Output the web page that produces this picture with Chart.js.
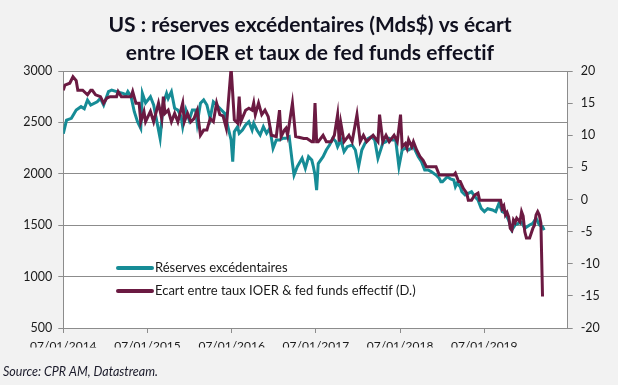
<!DOCTYPE html>
<html><head><meta charset="utf-8">
<script src="https://cdn.jsdelivr.net/npm/chart.js@4.4.1/dist/chart.umd.min.js"></script>
<style>html,body{margin:0;padding:0;background:#fff;}canvas{display:block;}</style>
</head><body>
<canvas id="c" width="620" height="390"></canvas>
<script>
// ---- Data (x = weeks since 07/01/2014) ----
const xTickLabels = ['07/01/2014','07/01/2015','07/01/2016','07/01/2017','07/01/2018','07/01/2019'];
const seriesLabels = ['Réserves excédentaires','Ecart entre taux IOER & fed funds effectif (D.)'];
const titleLines = ['US : réserves excédentaires (Mds$) vs écart','entre IOER et taux de fed funds effectif'];
const sourceText = 'Source: CPR AM, Datastream.';
const leftTicks = [500, 3000, 500];   // min, max, step
const rightTicks = [-20, 20, 5];

const reserveWeeks = [0,2,5,8,11,13,15,17,21,23,25,28,30,33,37,39,40,42,44,46,48,49,51,54,56,60,62,64,65,67,69,71,73,74,76,78,80,82,83,85,87,89,91,93,95,98,100,102,104,105,106,108,109,111,113,115,117,118,120,122,124,126,128,130,132,134,136,138,140,142,143,145,148,150,152,154,155,156,157,158,161,163,165,167,169,170,172,174,176,179,181,183,185,187,189,191,193,195,198,200,202,204,206,208,210,212,214,217,220,222,224,226,228,231,233,234,235,238,240,242,243,244,246,247,249,251,253,255,257,259,261,263,266,268,270,272,274,276,278,280,282,284,286,289,291,293,295,297,298];
const reserveValues = [2390,2523,2540,2620,2653,2633,2718,2669,2701,2734,2669,2799,2815,2799,2783,2767,2799,2750,2604,2507,2442,2783,2690,2750,2669,2345,2686,2783,2734,2799,2637,2620,2556,2458,2620,2523,2620,2620,2491,2686,2718,2669,2540,2701,2669,2620,2588,2458,2329,2118,2410,2458,2394,2426,2475,2507,2426,2491,2426,2377,2458,2394,2442,2248,2329,2329,2345,2345,2361,2102,1988,2069,2151,2053,2166,2134,2069,1988,1842,2100,2166,2231,2280,2345,2312,2264,2330,2215,2264,2280,2231,2069,2231,2297,2345,2361,2329,2151,2297,2312,2345,2329,2329,2069,2231,2248,2231,2264,2166,2118,2037,2037,2021,1988,1956,1923,1923,1972,1950,1940,1875,1907,1875,1826,1794,1810,1826,1778,1745,1664,1632,1660,1648,1632,1713,1632,1616,1550,1453,1502,1518,1530,1470,1502,1518,1567,1502,1486,1453];

const spreadWeeks = [0,1,4,6,8,9,12,15,17,18,20,23,25,27,29,33,34,36,42,43,45,47,48,50,51,54,56,59,61,62,63,65,67,69,71,74,75,77,79,81,83,85,87,89,91,93,95,97,99,101,104,106,108,109,110,113,115,117,118,119,121,123,125,127,129,132,134,135,137,138,139,142,144,149,151,154,155,156,157,158,161,163,166,168,170,171,172,174,177,179,182,184,186,188,192,195,196,198,200,202,205,207,209,210,212,213,214,216,217,219,221,223,225,231,233,242,243,245,246,248,250,251,253,255,257,258,271,272,273,274,275,276,277,278,279,280,281,283,284,285,286,287,289,291,292,293,294,295,296,297];
const spreadValues = [17.0,17.8,18.1,19.1,18.5,17.0,17.0,16.3,17.0,17.0,16.3,16.0,15.0,15.8,16.0,16.0,16.8,16.0,16.0,16.8,15.0,15.0,12.1,13.7,12.1,13.7,12.1,15.0,12.6,16.0,13.4,13.9,12.1,13.4,12.1,15.0,12.1,13.4,12.1,12.6,13.9,10.0,10.8,10.8,12.6,12.1,15.0,13.2,13.0,11.1,20.5,12.4,11.9,16.0,12.1,13.9,14.2,13.9,15.0,13.2,15.0,13.2,13.9,12.9,10.0,9.8,13.9,9.8,10.8,11.1,10.0,15.0,9.8,9.5,9.5,9.0,9.0,15.0,9.0,9.0,10.0,9.0,9.0,10.0,13.2,9.0,11.9,9.0,10.0,9.0,13.2,9.0,10.0,9.0,10.0,9.0,13.2,9.0,10.0,9.0,10.0,9.0,13.2,8.2,8.7,8.0,9.3,8.2,9.0,7.7,6.7,6.1,5.1,5.1,3.8,3.8,4.1,2.8,2.8,1.7,1.0,-0.1,-0.1,0.7,1.0,-0.1,-0.1,-1.4,-1.0,-2.4,-2.0,-2.7,-4.5,-4.8,-3.2,-3.6,-2.9,-3.5,-1.9,-2.6,-5.0,-6.0,-6.0,-4.5,-4.0,-2.4,-1.9,-2.4,-3.7,-15.1];

const WEEKS_PER_YEAR = 52.18;
const X_MAX = 312.6;

// ---- Styles ----
const BG = '#f2f2f2';
const GRID = '#8c8c8c';
const TEXT = '#1a1a1a';
const TEAL = '#168c96';
const MAROON = '#6b1a42';
const FONT = 'Lato';

const toPts = (xs, ys) => xs.map((x, i) => ({x: x, y: ys[i]}));

const decor = {
  id: 'decor',
  beforeDraw(chart) {
    const ctx = chart.ctx, a = chart.chartArea;
    ctx.save();
    ctx.fillStyle = '#ffffff';
    ctx.fillRect(0, 0, chart.width, chart.height);
    ctx.fillStyle = BG;
    ctx.fillRect(0, 0, 618, 385);
    ctx.fillStyle = '#ffffff';
    ctx.fillRect(a.left, a.top, a.right - a.left, a.bottom - a.top);
    ctx.restore();
  },
  afterDraw(chart) {
    const ctx = chart.ctx;
    ctx.save();
    // clipped x labels (as in the reference)
    ctx.fillStyle = BG;
    ctx.fillRect(0, 347.5, 618, 12);
    // title
    ctx.fillStyle = '#10101f';
    ctx.font = 'bold 21px ' + FONT;
    ctx.textAlign = 'center';
    ctx.textBaseline = 'middle';
    try { ctx.letterSpacing = '0.01px'; } catch (e) {}
    ctx.fillText(titleLines[0], 310, 25);
    ctx.fillText(titleLines[1], 310, 53);
    try { ctx.letterSpacing = '0px'; } catch (e) {}
    // source
    ctx.font = 'italic 12.5px ' + FONT;
    ctx.textAlign = 'left';
    ctx.fillStyle = '#1a1a2a';
    ctx.fillText(sourceText, 3, 372);
    // legend
    const rows = [268, 291];
    chart.data.datasets.forEach((ds, i) => {
      const y = rows[i];
      ctx.strokeStyle = ds.borderColor;
      ctx.lineWidth = 4;
      ctx.lineCap = 'round';
      ctx.beginPath();
      ctx.moveTo(118, y);
      ctx.lineTo(152, y);
      ctx.stroke();
      ctx.fillStyle = TEXT;
      ctx.font = '13px ' + FONT;
      ctx.textAlign = 'left';
      ctx.textBaseline = 'middle';
      ctx.fillText(ds.label, 155, y);
    });
    ctx.restore();
  }
};

new Chart(document.getElementById('c'), {
  type: 'line',
  data: {
    datasets: [
      {label: seriesLabels[0], data: toPts(reserveWeeks, reserveValues), yAxisID: 'y',
       borderColor: TEAL, borderWidth: 3, pointRadius: 0, tension: 0, order: 1},
      {label: seriesLabels[1], data: toPts(spreadWeeks, spreadValues), yAxisID: 'y1',
       borderColor: MAROON, borderWidth: 3, pointRadius: 0, tension: 0, order: 0}
    ]
  },
  options: {
    responsive: false,
    animation: false,
    devicePixelRatio: 1,
    layout: {padding: {top: 71, left: 0, right: 0, bottom: 0}},
    plugins: {legend: {display: false}, tooltip: {enabled: false}, title: {display: false}},
    scales: {
      x: {
        type: 'linear', position: 'bottom', min: 0, max: X_MAX,
        grid: {drawOnChartArea: false, drawTicks: true, tickLength: 5, color: GRID},
        border: {color: GRID},
        afterBuildTicks: s => { s.ticks = xTickLabels.map((_, i) => ({value: i * WEEKS_PER_YEAR})); },
        ticks: {autoSkip: false, maxRotation: 0, padding: 6, color: TEXT, font: {family: FONT, size: 12},
                callback: (v, i) => xTickLabels[i]},
        afterFit: s => { s.height = 62; }
      },
      y: {
        position: 'left', min: leftTicks[0], max: leftTicks[1],
        grid: {color: GRID, tickLength: 5},
        border: {color: GRID},
        ticks: {stepSize: leftTicks[2], padding: 6, color: TEXT, font: {family: FONT, size: 12.5},
                callback: v => String(v)},
        afterFit: s => { s.width = 63.3; }
      },
      y1: {
        position: 'right', min: rightTicks[0], max: rightTicks[1],
        grid: {drawOnChartArea: false, color: GRID, tickLength: 5},
        border: {color: GRID},
        ticks: {stepSize: rightTicks[2], padding: 8, color: TEXT, font: {family: FONT, size: 12.5},
                callback: v => String(v)},
        afterFit: s => { s.width = 52.3; }
      }
    }
  },
  plugins: [decor]
});
</script>
</body></html>
